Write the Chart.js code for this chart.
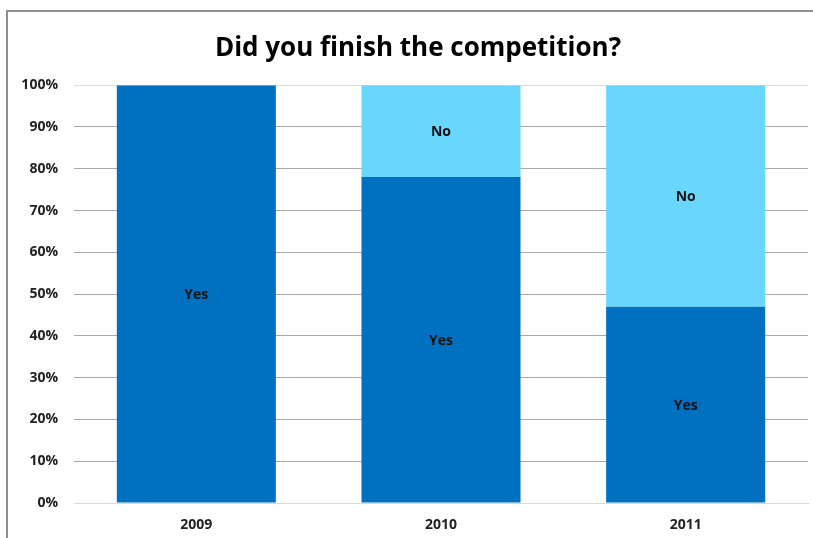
<!DOCTYPE html>
<html>
<head>
<meta charset="utf-8">
<script src="https://cdn.jsdelivr.net/npm/chart.js@4.4.1/dist/chart.umd.min.js"></script>
<style>
  body { margin: 0; background: #fff; overflow: hidden; }
  #box {
    position: absolute; left: 6px; top: 10px;
    width: 805px; height: 526px;
    border-top: 2px solid #8e8e8e; border-left: 2px solid #8e8e8e;
  }
  #myChart { display: block; }
</style>
</head>
<body>
<div id="box"><canvas id="myChart" width="805" height="526"></canvas></div>
<script>
var years = ['2009', '2010', '2011'];
var yesPct = [100, 78, 47];
var noPct = [0, 22, 53];
var yTicks = [0, 10, 20, 30, 40, 50, 60, 70, 80, 90, 100];

// writes the dataset name ("Yes"/"No") in the middle of each non-empty segment
var segLabels = {
  id: 'segLabels',
  afterDatasetsDraw: function(chart) {
    var ctx = chart.ctx;
    ctx.save();
    ctx.font = 'bold 14px "Open Sans"';
    ctx.fillStyle = '#111';
    ctx.textAlign = 'center';
    ctx.textBaseline = 'middle';
    chart.data.datasets.forEach(function(ds, i) {
      chart.getDatasetMeta(i).data.forEach(function(bar, j) {
        if (!ds.data[j]) return;
        var c = bar.getCenterPoint();
        ctx.fillText(ds.label, c.x, c.y + 1);
      });
    });
    ctx.restore();
  }
};

// nudge the title a little right of the canvas centre
var titleShift = {
  id: 'titleShift',
  afterLayout: function(chart) {
    if (chart.titleBlock) chart.titleBlock.left += 20;
  }
};

var data = {
  labels: years,
  datasets: [{
    label: 'Yes',
    data: yesPct,
    backgroundColor: '#0070c0',
    barPercentage: 0.65,
    categoryPercentage: 1
  }, {
    label: 'No',
    data: noPct,
    backgroundColor: '#69d7fd',
    barPercentage: 0.65,
    categoryPercentage: 1
  }]
};

var tickFont = { family: 'Open Sans', size: 14, weight: 'bold' };

var config = {
  type: 'bar',
  data: data,
  plugins: [segLabels, titleShift],
  options: {
    responsive: false,
    animation: false,
    layout: { padding: { left: 0, right: 5, top: 0, bottom: 0 } },
    plugins: {
      legend: { display: false },
      tooltip: { enabled: false },
      title: {
        display: true,
        text: 'Did you finish the competition?',
        color: '#000',
        font: { family: 'Open Sans', size: 26, weight: 'bold', lineHeight: 1.2 },
        padding: { top: 21, bottom: 21 }
      }
    },
    scales: {
      x: {
        stacked: true,
        grid: { display: false, drawTicks: false },
        border: { color: '#d9d9d9', width: 1 },
        ticks: { color: '#222', font: tickFont, padding: 14 },
        afterFit: function(s) { s.height = 35; }
      },
      y: {
        stacked: true,
        min: 0,
        max: 100,
        afterBuildTicks: function(s) { s.ticks = yTicks.map(function(v) { return { value: v }; }); },
        grid: {
          drawTicks: false,
          color: function(c) { return (c.tick && (c.tick.value === 0 || c.tick.value === 100)) ? '#dcdcdc' : '#a8a8a8'; }
        },
        border: { display: false },
        ticks: {
          color: '#222',
          font: tickFont,
          padding: 16,
          callback: function(v) { return v + '%'; }
        },
        afterFit: function(s) { s.width = 66; }
      }
    }
  }
};

var myChart = new Chart(document.getElementById('myChart'), config);
</script>
</body>
</html>
